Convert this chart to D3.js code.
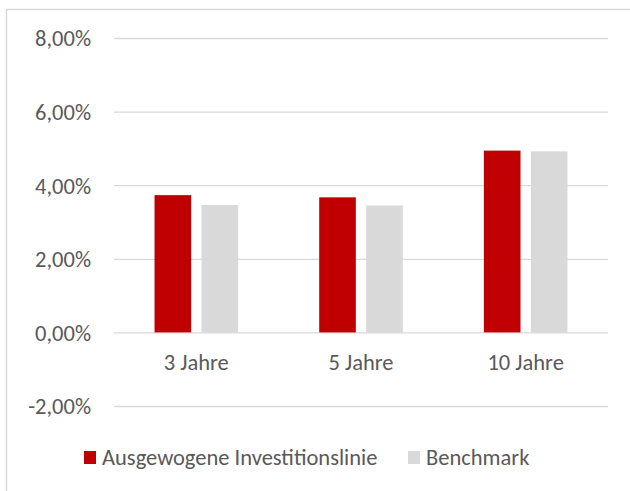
<!DOCTYPE html>
<html>
<head>
<meta charset="utf-8">
<script src="https://cdn.jsdelivr.net/npm/d3@7"></script>
<style>
  body { margin: 0; background: #fff; }
  text { font-family: Carlito, Calibri, "Open Sans", sans-serif; fill: #595959; }
</style>
</head>
<body>
<svg id="chart" width="630" height="491"></svg>
<script>
"use strict";

// data
var categories = ["3 Jahre", "5 Jahre", "10 Jahre"];
var seriesNames = ["Ausgewogene Investitionslinie", "Benchmark"];
var linieValues = [3.73, 3.67, 4.94];
var benchmarkValues = [3.46, 3.45, 4.92];
var yTicks = [-2, 0, 2, 4, 6, 8];

var colors = ["#c00000", "#d9d9d9"];
var fontSize = "22.5px";

// standard margins
var margin = {top: 38, left: 114, right: 22, bottom: 85};

var rows = categories.map(function(c, i) {
    return {cat: c, values: [linieValues[i], benchmarkValues[i]]};
});

var svg = d3.select("#chart");

// chart area frame (runs off the right and bottom of the picture)
svg.append("rect")
    .attr("x", 6.5).attr("y", 9.5)
    .attr("width", 700).attr("height", 600)
    .attr("fill", "none")
    .attr("stroke", "#d9d9d9")
    .attr("stroke-width", 1.5);

var g = svg.append("g")
    .attr("transform", "translate(" + margin.left + "," + margin.top + ")");

var y = d3.scaleLinear().domain([-2, 8]).range([368, 0]);
var x0 = d3.scaleBand().domain(categories).range([0, 494]).padding(0);
var cw = x0.bandwidth();
var x1 = d3.scaleBand().domain([0, 1])
    .range([cw / 2 - 41.8, cw / 2 + 41.8])
    .paddingInner(0.22).paddingOuter(0);

// German style: comma decimal, plain hyphen for minus
var fmt = function(v) {
    return d3.format(".2f")(v).replace(".", ",").replace("\u2212", "-") + "%";
};

// y axis with gridlines
var yAxis = g.append("g")
    .call(d3.axisLeft(y).tickValues(yTicks).tickSize(-494).tickFormat(fmt).tickPadding(23));
yAxis.select(".domain").remove();
yAxis.selectAll("line").attr("stroke", "#d9d9d9").attr("stroke-width", 1.3);
yAxis.selectAll("text")
    .style("font-size", fontSize)
    .attr("fill", "#595959")
    .attr("dy", "0.35em");

// bars
var groups = g.selectAll(".cat").data(rows).enter().append("g")
    .attr("class", "cat")
    .attr("transform", function(d) { return "translate(" + x0(d.cat) + ",0)"; });

groups.selectAll("rect").data(function(d) { return d.values; }).enter().append("rect")
    .attr("x", function(d, i) { return x1(i); })
    .attr("width", x1.bandwidth())
    .attr("y", function(d) { return y(Math.max(d, 0)); })
    .attr("height", function(d) { return Math.abs(y(d) - y(0)); })
    .attr("fill", function(d, i) { return colors[i]; });

// category labels below the zero line
g.selectAll(".catlabel").data(categories).enter().append("text")
    .attr("class", "catlabel")
    .attr("x", function(d) { return x0(d) + cw / 2; })
    .attr("y", y(0) + 38)
    .attr("text-anchor", "middle")
    .style("font-size", fontSize)
    .text(function(d) { return d; });

// legend
var legendX = [84, 408];
var legend = svg.selectAll(".legend").data(seriesNames).enter().append("g")
    .attr("class", "legend")
    .attr("transform", function(d, i) { return "translate(" + legendX[i] + ",451)"; });
legend.append("rect")
    .attr("width", 12).attr("height", 13)
    .attr("fill", function(d, i) { return colors[i]; });
legend.append("text")
    .attr("x", 18).attr("y", 13.5)
    .style("font-size", fontSize)
    .text(function(d) { return d; });
</script>
</body>
</html>
